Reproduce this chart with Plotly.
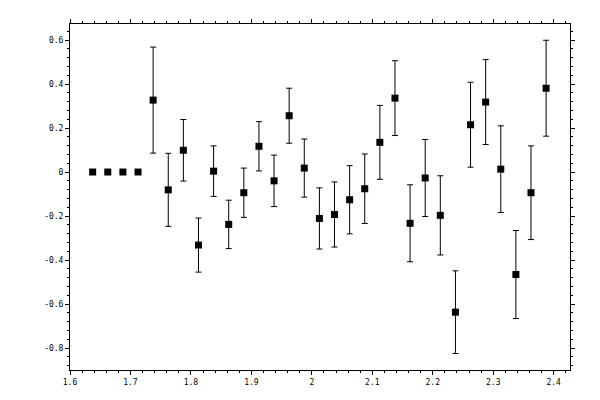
import plotly.graph_objects as go

# 31 points, x spaced by 0.025 starting at 1.6375
x_values = [1.6375, 1.6625, 1.6875, 1.7125, 1.7375, 1.7625, 1.7875, 1.8125,
            1.8375, 1.8625, 1.8875, 1.9125, 1.9375, 1.9625, 1.9875, 2.0125,
            2.0375, 2.0625, 2.0875, 2.1125, 2.1375, 2.1625, 2.1875, 2.2125,
            2.2375, 2.2625, 2.2875, 2.3125, 2.3375, 2.3625, 2.3875]
y_values = [0.0, 0.0, 0.0, 0.0, 0.327, -0.081, 0.099, -0.332,
            0.004, -0.238, -0.094, 0.117, -0.040, 0.256, 0.018, -0.211,
            -0.193, -0.126, -0.076, 0.135, 0.336, -0.233, -0.027, -0.197,
            -0.637, 0.215, 0.318, 0.013, -0.466, -0.094, 0.381]
y_errors = [0.0, 0.0, 0.0, 0.0, 0.241, 0.166, 0.140, 0.123,
            0.115, 0.110, 0.112, 0.112, 0.117, 0.125, 0.132, 0.139,
            0.148, 0.155, 0.158, 0.168, 0.170, 0.175, 0.175, 0.180,
            0.188, 0.193, 0.193, 0.197, 0.200, 0.213, 0.218]

x_ticks = [1.6, 1.7, 1.8, 1.9, 2.0, 2.1, 2.2, 2.3, 2.4]
x_tick_labels = ["1.6", "1.7", "1.8", "1.9", "2", "2.1", "2.2", "2.3", "2.4"]
y_ticks = [-0.8, -0.6, -0.4, -0.2, 0, 0.2, 0.4, 0.6]
y_tick_labels = ["-0.8", "-0.6", "-0.4", "-0.2", "0", "0.2", "0.4", "0.6"]

fig = go.Figure()

fig.add_trace(
    go.Scatter(
        x=x_values,
        y=y_values,
        mode="markers",
        marker=dict(symbol="square", size=7, color="black"),
        error_y=dict(type="data", array=y_errors, visible=True,
                     color="black", thickness=1, width=3),
        showlegend=False,
    )
)

axis_style = dict(
    showline=True,
    linecolor="black",
    linewidth=1,
    mirror="ticks",
    ticks="outside",
    ticklen=4,
    tickwidth=1,
    tickcolor="black",
    showgrid=False,
    zeroline=False,
    tickfont=dict(family="DejaVu Sans Mono", size=8, color="black"),
)

fig.update_xaxes(
    range=[1.6, 2.427],
    tickvals=x_ticks,
    ticktext=x_tick_labels,
    minor=dict(dtick=0.02, tick0=1.6, ticks="outside", ticklen=2,
               tickcolor="black", showgrid=False),
    **axis_style,
)
fig.update_yaxes(
    range=[-0.9, 0.673],
    tickvals=y_ticks,
    ticktext=y_tick_labels,
    minor=dict(dtick=0.04, tick0=0, ticks="outside", ticklen=2,
               tickcolor="black", showgrid=False),
    **axis_style,
)

# page body adds an 8px offset, so margins are shifted to match
fig.update_layout(
    width=600,
    height=400,
    margin=dict(l=62, r=38, t=11, b=38),
    plot_bgcolor="white",
    paper_bgcolor="white",
)

fig.write_html("out.html")
